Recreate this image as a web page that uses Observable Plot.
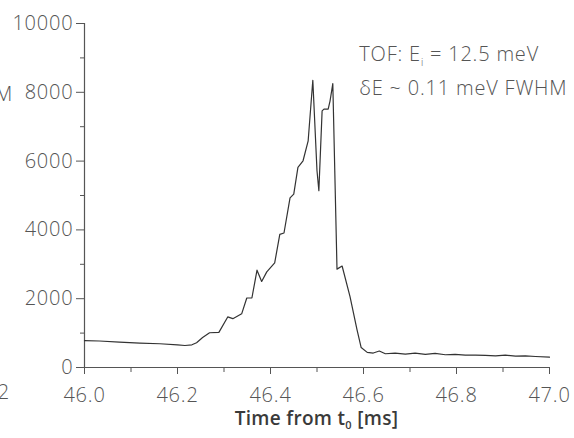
<!DOCTYPE html>
<html><head><meta charset="utf-8">
<script src="https://cdn.jsdelivr.net/npm/d3@7"></script>
<script src="https://cdn.jsdelivr.net/npm/@observablehq/plot@0.6"></script>
<style>
html,body{margin:0;padding:0;background:#fff;}
svg{font-family:"Open Sans",sans-serif;}
</style>
</head><body>
<div id="chart"></div>
<script>
const times = [46.000,46.032,46.075,46.119,46.162,46.200,46.216,46.231,46.241,46.254,46.269,46.289,46.308,46.319,46.338,46.349,46.360,46.371,46.381,46.392,46.409,46.420,46.429,46.442,46.450,46.459,46.470,46.481,46.491,46.500,46.504,46.511,46.515,46.524,46.528,46.534,46.543,46.554,46.571,46.586,46.595,46.608,46.621,46.634,46.647,46.668,46.690,46.711,46.733,46.754,46.776,46.797,46.819,46.841,46.862,46.884,46.905,46.927,46.948,46.970,47.000];
const counts = [780,770,740,710,690,660,640,660,720,870,1010,1020,1470,1420,1560,2020,2020,2830,2500,2780,3040,3870,3910,4930,5040,5820,6010,6590,8350,5720,5140,7460,7510,7510,7745,8250,2860,2950,2060,1100,580,440,420,480,400,420,390,420,380,410,370,380,360,360,350,340,360,330,340,320,300];
const xMajor = [46.0,46.2,46.4,46.6,46.8,47.0];
const xMinor = [46.1,46.3,46.5,46.7,46.9];
const yMajor = [0,2000,4000,6000,8000,10000];
const yMinor = [1000,3000,5000,7000,9000];
const data = times.map((t,i)=>({t, c: counts[i]}));

const grey = "#555555";
const plot = Plot.plot({
  width: 574, height: 438,
  marginLeft: 84, marginRight: 25, marginTop: 23, marginBottom: 71,
  style: {fontFamily: "'Open Sans', sans-serif", fontSize: "20px", fontWeight: 300, letterSpacing: "0.8px", color: grey, background: "#fff"},
  x: {domain: [46, 47]},
  y: {domain: [0, 10000]},
  marks: [
    Plot.axisX({ticks: xMajor, tickFormat: d3.format(".1f"), tickSize: 7, tickPadding: 13, label: null, stroke: grey, fill: grey}),
    Plot.axisX({ticks: xMinor, tickSize: 5, text: null, label: null, stroke: grey}),
    Plot.axisY({ticks: yMajor, tickFormat: d3.format("d"), tickSize: 8, tickPadding: 3, label: null, stroke: grey, fill: grey}),
    Plot.axisY({ticks: yMinor, tickSize: 4, text: null, label: null, stroke: grey}),
    Plot.ruleY([0], {stroke: grey, strokeWidth: 1.2}),
    Plot.ruleX([46], {stroke: grey, strokeWidth: 1.2}),
    Plot.line(data, {x: "t", y: "c", stroke: "#333", strokeWidth: 1.2})
  ]
});
document.getElementById("chart").appendChild(plot);

const sx = plot.scale("x"), sy = plot.scale("y");
const svg = d3.select(plot);
// x axis title with subscript
const title = svg.append("text")
  .attr("x", sx.apply(46.5)).attr("y", 425)
  .attr("text-anchor", "middle").attr("letter-spacing", "0.3px")
  .attr("font-size", 19).attr("font-weight", 600).attr("fill", "#3a3a3a");
title.append("tspan").text("Time from t");
title.append("tspan").attr("font-size", 11).attr("dy", 4).text("0");
title.append("tspan").attr("dy", -4).text(" [ms]");

// annotation
const ax = sx.apply(46.592);
const a1 = svg.append("text").attr("x", ax).attr("y", sy.apply(8900))
  .attr("text-anchor", "start").attr("font-size", 20).attr("letter-spacing", "0.8px").attr("fill", grey);
a1.append("tspan").text("TOF: E");
a1.append("tspan").attr("font-size", 10).attr("dy", 5).text("i");
a1.append("tspan").attr("dy", -5).text(" = 12.5 meV");
svg.append("text").attr("x", ax).attr("y", sy.apply(7900))
  .attr("text-anchor", "start").attr("font-size", 20).attr("letter-spacing", "0.8px").attr("fill", grey).text("δE ~ 0.11 meV FWHM");

// neighbouring-figure fragments at the left edge
svg.append("text").attr("x", 13).attr("y", sy.apply(7720)).attr("text-anchor", "end")
  .attr("font-size", 20).attr("fill", grey).text("FWHM");
svg.append("text").attr("x", 10).attr("y", 399).attr("text-anchor", "end")
  .attr("font-size", 20).attr("fill", grey).text("46.2");
</script>
</body></html>
